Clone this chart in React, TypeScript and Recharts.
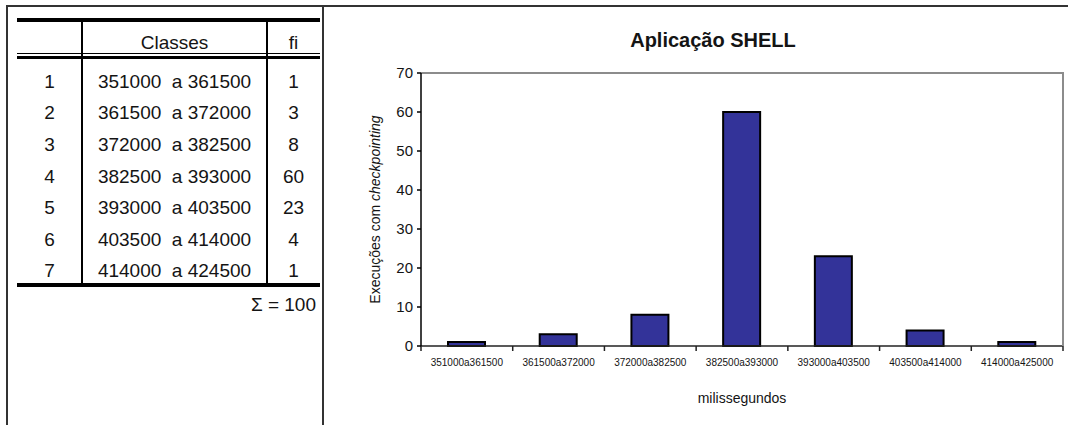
import { Bar, BarChart, ReferenceLine, XAxis, YAxis } from 'recharts';

// frequency table: class limits and counts
const classLower = [351000, 361500, 372000, 382500, 393000, 403500, 414000];
const classUpper = [361500, 372000, 382500, 393000, 403500, 414000, 424500];
const freq = [1, 3, 8, 60, 23, 4, 1];

// histogram categories as printed under the bars
const binLabels = [
  '351000a361500',
  '361500a372000',
  '372000a382500',
  '382500a393000',
  '393000a403500',
  '403500a414000',
  '414000a425000',
];
const yTicks = [0, 10, 20, 30, 40, 50, 60, 70];

const font = "'Liberation Sans', Arial, sans-serif";
const ink = '#141414';
const frameGrey = '#8c8c8c';

const data = binLabels.map((bin, i) => ({ bin, fi: freq[i] }));
const total = freq.reduce((a, b) => a + b, 0);

// table geometry
const T_LEFT = 17;
const T_RIGHT = 320;
const COL1 = 82;
const COL2 = 267;
const ROW_TOP = 66;
const ROW_H = 31.6;

// chart geometry
const CHART_LEFT = 324;
const CHART_W = 744;
const CHART_H = 425;
const MARGIN = { top: 73, right: 5, bottom: 49, left: 37 };
const Y_AXIS_W = 60;
const X_AXIS_H = 30;
const PLOT_W = CHART_W - MARGIN.left - MARGIN.right - Y_AXIS_W;
const PLOT_H = CHART_H - MARGIN.top - MARGIN.bottom - X_AXIS_H;
const HALF_BAND = PLOT_W / binLabels.length / 2;

const hLine = (top: number, h: number, key: string) => (
  <div key={key} style={{ position: 'absolute', left: T_LEFT, width: T_RIGHT - T_LEFT, top, height: h, background: '#000' }} />
);

const vLine = (left: number, key: string) => (
  <div key={key} style={{ position: 'absolute', left: left - 1, width: 2, top: 22, height: 283 - 22, background: '#000' }} />
);

const cell = (left: number, width: number, cy: number, text: string, key: string) => (
  <div
    key={key}
    style={{
      position: 'absolute',
      left,
      width,
      top: cy - 11,
      height: 22,
      lineHeight: '22px',
      textAlign: 'center',
      fontSize: 19,
      whiteSpace: 'pre',
      color: ink,
    }}
  >
    {text}
  </div>
);

const FreqTable = () => (
  <>
    {hLine(18, 4, 'top')}
    {cell(COL1, COL2 - COL1, 43, 'Classes', 'hc')}
    {cell(COL2, T_RIGHT - COL2, 43, 'fi', 'hf')}
    {hLine(52.8, 1.6, 'd1')}
    {hLine(56.2, 2.6, 'd2')}
    {vLine(COL1, 'v1')}
    {vLine(COL2, 'v2')}
    {freq.map((f, i) => {
      const cy = ROW_TOP + ROW_H * i + ROW_H / 2;
      return [
        cell(T_LEFT, COL1 - T_LEFT, cy, String(i + 1), `n${i}`),
        cell(COL1, COL2 - COL1, cy, `${classLower[i]}  a ${classUpper[i]}`, `c${i}`),
        cell(COL2, T_RIGHT - COL2, cy, String(f), `f${i}`),
      ];
    })}
    {hLine(283, 4, 'bottom')}
    <div
      style={{ position: 'absolute', right: 1068 - 316, top: 294, height: 22, lineHeight: '22px', fontSize: 19, color: ink, whiteSpace: 'pre' }}
    >
      {`\u03A3 = ${total}`}
    </div>
  </>
);

// category label centred under its bar
const BinTick = (props: any) => {
  const { x, y, payload } = props;
  return (
    <text x={x} y={y + 12} textAnchor="middle" dominantBaseline="central" fontSize={10} fill={ink} fontFamily={font}>
      {payload.value}
    </text>
  );
};

// short tick marks on the class boundaries, under the axis
const boundaryShape = (last: boolean) => (p: any) => {
  const left = p.x1 - HALF_BAND;
  const right = p.x1 + HALF_BAND;
  const base = Math.max(p.y1, p.y2);
  return (
    <g>
      <line x1={left} x2={left} y1={base} y2={base + 5} stroke="#222" strokeWidth={1.5} />
      {last && <line x1={right} x2={right} y1={base} y2={base + 5} stroke="#222" strokeWidth={1.5} />}
    </g>
  );
};

const YTitle = ({ viewBox }: any) => {
  const cx = viewBox.x + 14;
  const cy = viewBox.y + viewBox.height / 2;
  return (
    <text
      x={cx}
      y={cy}
      transform={`rotate(-90 ${cx} ${cy})`}
      textAnchor="middle"
      dominantBaseline="central"
      fontSize={14}
      fill={ink}
      fontFamily={font}
    >
      Execuções com <tspan fontStyle="italic">checkpointing</tspan>
    </text>
  );
};

const XTitle = ({ viewBox }: any) => (
  <text
    x={viewBox.x + viewBox.width / 2}
    y={viewBox.y + 52}
    textAnchor="middle"
    dominantBaseline="central"
    fontSize={14}
    fill={ink}
    fontFamily={font}
  >
    milissegundos
  </text>
);

const ShellChart = () => (
  <div style={{ position: 'absolute', left: CHART_LEFT, top: 0 }}>
    <BarChart width={CHART_W} height={CHART_H} data={data} margin={MARGIN} barSize={37}>
      <XAxis
        dataKey="bin"
        height={X_AXIS_H}
        interval={0}
        tickLine={false}
        tickSize={4}
        tickMargin={0}
        tick={<BinTick />}
        axisLine={{ stroke: '#222', strokeWidth: 1.5 }}
        label={<XTitle />}
      />
      <YAxis
        domain={[0, 70]}
        ticks={yTicks}
        width={Y_AXIS_W}
        tickSize={4}
        tickMargin={4}
        tickLine={{ stroke: '#000', strokeWidth: 1.5 }}
        axisLine={{ stroke: '#000', strokeWidth: 1.5 }}
        tick={{ fontSize: 15, fill: ink, fontFamily: font }}
        label={<YTitle />}
      />
      <ReferenceLine y={70} stroke={frameGrey} strokeWidth={2} />
      {binLabels.map((b, i) => (
        <ReferenceLine key={b} x={b} stroke="none" shape={boundaryShape(i === binLabels.length - 1)} />
      ))}
      <Bar dataKey="fi" fill="#333399" stroke="#000" strokeWidth={2} isAnimationActive={false} />
    </BarChart>
    {/* grey right edge of the plot frame */}
    <div
      style={{
        position: 'absolute',
        left: CHART_W - MARGIN.right - 1,
        top: MARGIN.top - 1,
        width: 2,
        height: PLOT_H + 1,
        background: frameGrey,
      }}
    />
  </div>
);

export default function App() {
  return (
    <div
      style={{
        position: 'absolute',
        left: 0,
        top: 0,
        width: 1068,
        height: 425,
        background: '#fff',
        overflow: 'hidden',
        fontFamily: font,
      }}
    >
      {/* page frame */}
      <div style={{ position: 'absolute', left: 6, top: 5, width: 1062, height: 2, background: '#333' }} />
      <div style={{ position: 'absolute', left: 6, top: 5, width: 2, height: 420, background: '#333' }} />
      <div style={{ position: 'absolute', left: 322, top: 5, width: 2, height: 420, background: '#333' }} />

      <FreqTable />
      <ShellChart />

      <div
        style={{
          position: 'absolute',
          left: 563,
          width: 300,
          top: 30,
          height: 20,
          lineHeight: '20px',
          textAlign: 'center',
          fontSize: 20,
          fontWeight: 'bold',
          color: ink,
        }}
      >
        Aplicação SHELL
      </div>
    </div>
  );
}
